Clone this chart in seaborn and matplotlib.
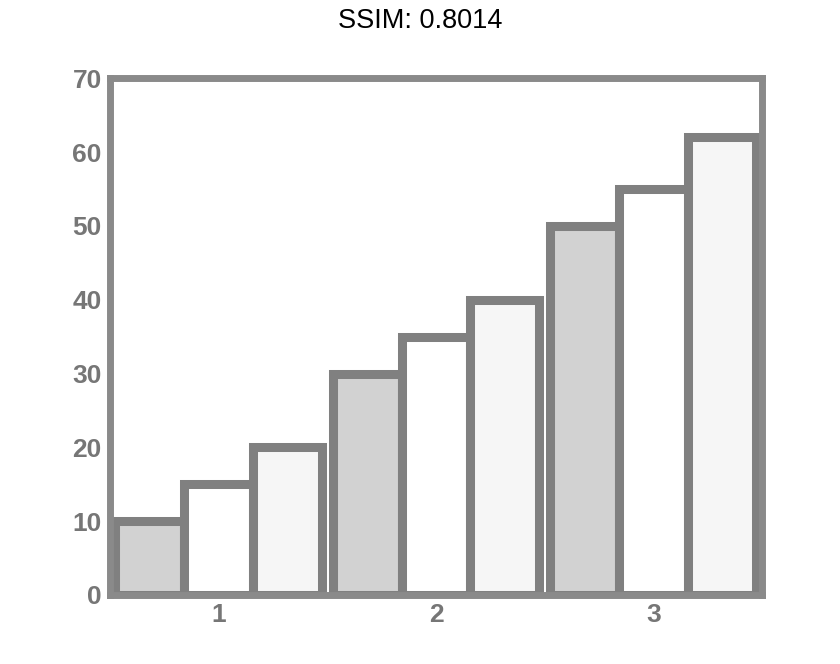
import pandas as pd
import seaborn as sns
import matplotlib.pyplot as plt

# -------------------- Data --------------------
groups = ['1', '2', '3']
series = ['a', 'b', 'c']
values_a = [10, 30, 50]
values_b = [15, 35, 55]
values_c = [20, 40, 62]
y_ticks = [0, 10, 20, 30, 40, 50, 60, 70]

df = pd.DataFrame({
    'group': groups * 3,
    'series': [series[0]] * 3 + [series[1]] * 3 + [series[2]] * 3,
    'value': values_a + values_b + values_c,
})

sns.set_style('white')
plt.rcParams['font.family'] = ['Liberation Sans', 'DejaVu Sans']

fig = plt.figure(figsize=(8.4, 6.64), dpi=100)
ax = fig.add_axes([0.131, 0.104, 0.776, 0.778])

palette = {'a': '#d2d2d2', 'b': '#ffffff', 'c': '#f6f6f6'}
sns.barplot(data=df, x='group', y='value', hue='series', palette=palette,
            width=0.95, edgecolor='#808080', linewidth=6.5, saturation=1,
            legend=False, ax=ax)

# -------------------- Axes styling --------------------
ax.set_ylim(0, 70)
ax.set_xlim(-0.5, 2.5)
ax.set_yticks(y_ticks)
ax.set_xlabel('')
ax.set_ylabel('')
for s in ax.spines.values():
    s.set_color('#8a8a8a')
    s.set_linewidth(5)
ax.tick_params(axis='both', colors='#e0e0e0', length=3, width=2, direction='in',
               labelsize=19, labelcolor='#767676', pad=6)
for lab in ax.get_xticklabels() + ax.get_yticklabels():
    lab.set_fontweight('bold')

fig.suptitle('SSIM: 0.8014', fontsize=19.5, y=0.988, color='black')

plt.savefig('out.png', dpi=100)
